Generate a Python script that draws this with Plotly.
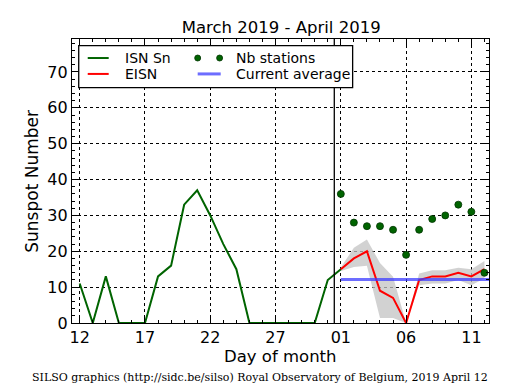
import plotly.graph_objects as go
import pandas as pd

# ---- data ----
isn_dates = pd.date_range("2019-03-12", "2019-04-01", freq="D")
isn_values = [11, 0, 13, 0, 0, 0, 13, 16, 33, 37, 30, 22, 15, 0, 0, 0, 0, 0, 0, 12, 15]

apr_dates = pd.date_range("2019-04-01", "2019-04-12", freq="D")
eisn_values = [15, 18, 20, 9, 7, 0, 12, 13, 13, 14, 13, 15]
eisn_upper = [15.5, 21, 23.3, 16.7, 12.9, 0, 13.8, 14.7, 14.7, 15.4, 15, 17.3]
eisn_lower = [14.5, 15.6, 16, 1.4, 1.4, 0, 10.5, 11, 11, 12, 10.5, 12.5]
nb_stations = [36, 28, 27, 27, 26, 19, 26, 29, 30, 33, 31, 14]

avg_dates = ["2019-04-01", "2019-04-13"]
current_average = [12.1, 12.1]

month_boundary = "2019-03-31 12:00"

legend_labels = ["ISN Sn", "EISN", "Nb stations", "Current average"]

FONT = "DejaVu Sans"
GREEN = "#006400"
RED = "#ff0000"
BLUE = "rgba(60,60,255,0.75)"

fig = go.Figure()

# shaded uncertainty band
fig.add_trace(go.Scatter(x=apr_dates, y=eisn_lower, mode="lines",
                         line=dict(width=0, color="rgba(0,0,0,0)"),
                         showlegend=False, hoverinfo="skip"))
fig.add_trace(go.Scatter(x=apr_dates, y=eisn_upper, mode="lines",
                         line=dict(width=0, color="rgba(0,0,0,0)"),
                         fill="tonexty", fillcolor="rgba(195,195,195,0.75)",
                         showlegend=False, hoverinfo="skip"))

fig.add_trace(go.Scatter(x=isn_dates, y=isn_values, mode="lines", name=legend_labels[0],
                         line=dict(color=GREEN, width=2), showlegend=False))
fig.add_trace(go.Scatter(x=apr_dates, y=eisn_values, mode="lines", name=legend_labels[1],
                         line=dict(color=RED, width=2), showlegend=False))
fig.add_trace(go.Scatter(x=apr_dates, y=nb_stations, mode="markers", name=legend_labels[2],
                         marker=dict(color=GREEN, size=7,
                                     line=dict(color="#003300", width=0.8)),
                         showlegend=False))
fig.add_trace(go.Scatter(x=avg_dates, y=current_average, mode="lines", name=legend_labels[3],
                         line=dict(color=BLUE, width=3), showlegend=False))

# vertical month separator
fig.add_shape(type="line", xref="x", yref="paper", x0=month_boundary, x1=month_boundary,
              y0=0, y1=1, line=dict(color="black", width=1.3))

# ---- manual legend (frame, samples, labels) ----
P = dict(xref="paper", yref="paper")
fig.add_shape(type="rect", x0=0.0161, x1=0.673, y0=0.8285, y1=0.9764,
              line=dict(color="black", width=1.3), fillcolor="white", layer="above", **P)
row1, row2 = 0.933, 0.877
fig.add_shape(type="line", x0=0.0377, x1=0.088, y0=row1, y1=row1,
              line=dict(color=GREEN, width=2), layer="above", **P)
fig.add_shape(type="line", x0=0.0377, x1=0.088, y0=row2, y1=row2,
              line=dict(color=RED, width=2), layer="above", **P)
for cx in (0.3014, 0.354):
    fig.add_shape(type="circle", xsizemode="pixel", ysizemode="pixel",
                  xanchor=cx, yanchor=row1, x0=-3, x1=3, y0=-3, y1=3,
                  fillcolor=GREEN, line=dict(color="#003300", width=0.8),
                  layer="above", **P)
fig.add_shape(type="line", x0=0.3014, x1=0.3566, y0=row2, y1=row2,
              line=dict(color=BLUE, width=3), layer="above", **P)

legend_font = dict(family=FONT, size=14, color="black")
annotations = []
for txt, x, y in [(legend_labels[0], 0.1216, row1), (legend_labels[1], 0.1216, row2),
                  (legend_labels[2], 0.3878, row1), (legend_labels[3], 0.3878, row2)]:
    annotations.append(dict(text=txt, x=x, y=y, xanchor="left", yanchor="middle",
                            showarrow=False, font=legend_font, **P))

axis_font = dict(family=FONT, size=16, color="black")
annotations += [
    dict(text="Day of month", x=0.5, y=-0.119, xanchor="center", yanchor="middle",
         showarrow=False, font=dict(family=FONT, size=16.5, color="black"), **P),
    dict(text="Sunspot Number", x=-0.0966, y=0.5, xanchor="center", yanchor="middle",
         textangle=-90, showarrow=False, font=dict(family=FONT, size=17, color="black"), **P),
    dict(text="SILSO graphics (http://sidc.be/silso) Royal Observatory of Belgium, 2019 April 12",
         x=0.45, y=-0.193, xanchor="center", yanchor="middle", showarrow=False,
         font=dict(family="DejaVu Serif", size=11, color="black"), **P),
]

fig.update_layout(
    width=515, height=390,
    margin=dict(l=72, r=26, t=39, b=67, autoexpand=False),
    paper_bgcolor="white", plot_bgcolor="white",
    showlegend=False,
    title=dict(text="March 2019 - April 2019", x=0.546, xanchor="center",
               y=0.931, yanchor="middle",
               font=dict(family=FONT, size=16.5, color="black")),
    font=dict(family=FONT, size=16, color="black"),
    xaxis=dict(
        type="date", automargin=False,
        range=["2019-03-11 09:50", "2019-04-12 08:24"],
        tick0="2019-03-12", dtick=5 * 86400000, tickformat="%d",
        ticks="inside", ticklen=6, tickwidth=1, tickcolor="black",
        showline=True, linecolor="black", linewidth=1.3, mirror="allticks",
        showgrid=True, gridcolor="black", griddash="dot", gridwidth=1,
        zeroline=False, tickfont=axis_font,
        minor=dict(ticks="inside", ticklen=3, dtick=86400000, tickcolor="black",
                   showgrid=False),
    ),
    yaxis=dict(
        automargin=False,
        range=[0, 79.2], dtick=10, tick0=0,
        ticks="inside", ticklen=6, tickwidth=1, tickcolor="black",
        showline=True, linecolor="black", linewidth=1.3, mirror="allticks",
        showgrid=True, gridcolor="black", griddash="dot", gridwidth=1,
        zeroline=False, tickfont=axis_font,
        minor=dict(ticks="inside", ticklen=3, dtick=2, tickcolor="black",
                   showgrid=False),
    ),
    annotations=annotations,
)

fig.write_html(
    "out.html",
    config={"displayModeBar": False},
    post_script="document.body.style.margin='0px';document.body.style.overflow='hidden';",
)
